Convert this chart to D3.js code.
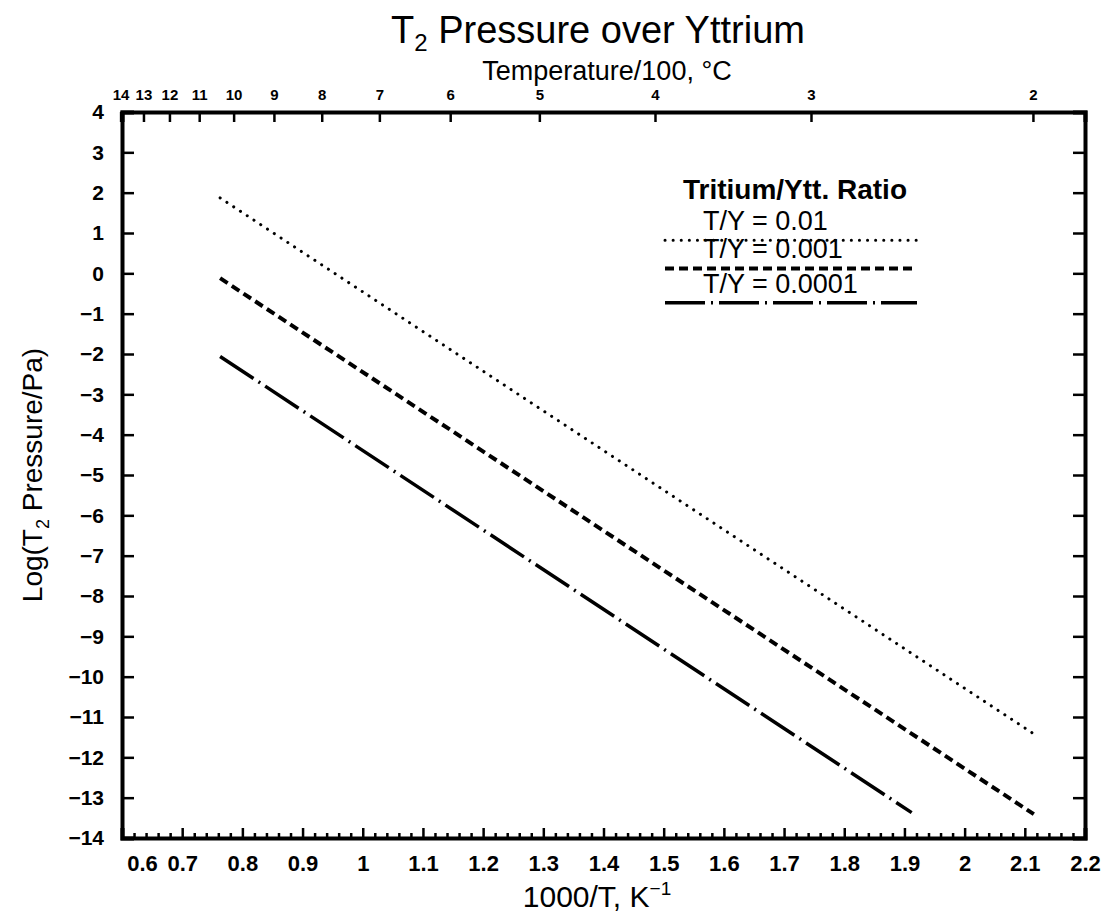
<html>
  <style type="text/css">
    body { margin: 0; background: #fff; }
    text { font-family: "Liberation Sans Narrow", "Liberation Sans", sans-serif; fill: #000; }
  </style>
  <body>
    <script src="https://d3js.org/d3.v7.min.js" charset="utf-8"></script>
    <script type="text/javascript">
      // values
      const xTickValues = [0.6, 0.7, 0.8, 0.9, 1, 1.1, 1.2, 1.3, 1.4, 1.5, 1.6, 1.7, 1.8, 1.9, 2, 2.1, 2.2];
      const yTickValues = [4, 3, 2, 1, 0, -1, -2, -3, -4, -5, -6, -7, -8, -9, -10, -11, -12, -13, -14];
      const tempTicks = [14, 13, 12, 11, 10, 9, 8, 7, 6, 5, 4, 3, 2]; // T/100, deg C

      const ratioLabels = ["T/Y = 0.01", "T/Y = 0.001", "T/Y = 0.0001"];
      const invTemp = [[0.763, 2.115], [0.763, 2.115], [0.763, 1.912]];
      const logP = [[1.87, -11.42], [-0.12, -13.41], [-2.06, -13.37]];
      const legendLevels = [0.82, 0.12, -0.73];
      const dashes = ["0.1 8", "9 5", "40 6 2 6"];
      const widths = [3, 4, 3.5];

      const props = { width: 1117, height: 919, left: 122, right: 1085, top: 112, bottom: 838 };

      let svg = d3.select("body").append("svg")
        .attr("width", props.width)
        .attr("height", props.height);

      const x = d3.scaleLinear().domain([0.6, 2.2]).range([props.left, props.right]);
      const y = d3.scaleLinear().domain([4, -14]).range([props.top, props.bottom]);

      // bottom axis, ticks pointing up, minor every 0.02
      const minor = d3.range(31, 110).map(d => d / 50).filter(d => Math.abs(d * 10 - Math.round(d * 10)) > 1e-6);
      svg.append("g")
        .attr("transform", `translate(0,${props.bottom})`)
        .call(d3.axisBottom(x).tickValues(minor).tickSize(-5).tickFormat(""))
        .call(g => g.select(".domain").remove());
      let xAxis = svg.append("g")
        .attr("transform", `translate(0,${props.bottom})`)
        .call(d3.axisBottom(x).tickValues(xTickValues).tickSize(-10).tickPadding(17).tickFormat(d3.format("")));
      xAxis.selectAll("text").style("font-size", "22px").style("font-weight", "bold");
      xAxis.selectAll(".tick").filter(d => d === 0.6).select("text").attr("dx", 20);

      // top axis: temperature / 100 C
      const toInv = t => 1000 / (t * 100 + 273.15);
      let topAxis = svg.append("g")
        .attr("transform", `translate(0,${props.top})`)
        .call(d3.axisTop(x).tickValues(tempTicks.map(toInv)).tickSize(-10).tickPadding(12)
          .tickFormat((d, i) => tempTicks[i]));
      topAxis.selectAll("text").style("font-size", "15px").style("font-weight", "bold");

      let yAxis = svg.append("g")
        .attr("transform", `translate(${props.left},0)`)
        .call(d3.axisLeft(y).tickValues(yTickValues).tickSize(-12).tickPadding(18));
      yAxis.selectAll("text").style("font-size", "21px").style("font-weight", "bold");

      svg.append("g")
        .attr("transform", `translate(${props.right},0)`)
        .call(d3.axisRight(y).tickValues(yTickValues).tickSize(-12).tickFormat(""));

      svg.selectAll(".domain").attr("stroke-width", 4).attr("stroke", "#000");
      svg.selectAll(".tick line").attr("stroke-width", 2.5).attr("stroke", "#000");
      svg.selectAll(".tick text").attr("fill", "#000");

      // data lines
      const line = d3.line().x(d => x(d[0])).y(d => y(d[1]));
      svg.append("g").selectAll("path")
        .data(ratioLabels)
        .enter()
        .append("path")
        .attr("d", (d, i) => line(d3.zip(invTemp[i], logP[i])))
        .attr("fill", "none")
        .attr("stroke", "#000")
        .attr("stroke-width", (d, i) => widths[i])
        .attr("stroke-linecap", (d, i) => i === 0 ? "round" : "butt")
        .attr("stroke-dasharray", (d, i) => dashes[i]);

      // legend
      const legend = svg.append("g");
      legend.append("text")
        .attr("x", 795).attr("y", 199)
        .attr("text-anchor", "middle")
        .style("font-size", "28px")
        .style("font-weight", "bold")
        .text("Tritium/Ytt. Ratio");
      legend.selectAll("line")
        .data(ratioLabels)
        .enter()
        .append("line")
        .attr("x1", 665).attr("x2", 917)
        .attr("y1", (d, i) => y(legendLevels[i]))
        .attr("y2", (d, i) => y(legendLevels[i]))
        .attr("stroke", "#000")
        .attr("stroke-width", (d, i) => widths[i])
        .attr("stroke-linecap", (d, i) => i === 0 ? "round" : "butt")
        .attr("stroke-dasharray", (d, i) => dashes[i]);
      legend.selectAll("text.entry")
        .data(ratioLabels)
        .enter()
        .append("text")
        .attr("class", "entry")
        .attr("x", 703)
        .attr("y", (d, i) => y(legendLevels[i]) - 10)
        .style("font-size", "27px")
        .text(d => d);

      // titles
      let title = svg.append("text")
        .attr("x", 598).attr("y", 43)
        .attr("text-anchor", "middle")
        .style("font-size", "38px");
      title.append("tspan").text("T");
      title.append("tspan").attr("dy", 8).style("font-size", "24px").text("2");
      title.append("tspan").attr("dy", -8).text(" Pressure over Yttrium");

      svg.append("text")
        .attr("x", 607).attr("y", 80)
        .attr("text-anchor", "middle")
        .style("font-size", "27px")
        .text("Temperature/100, °C");

      let xTitle = svg.append("text")
        .attr("x", 597).attr("y", 907)
        .attr("text-anchor", "middle")
        .style("font-size", "30px");
      xTitle.append("tspan").text("1000/T, K");
      xTitle.append("tspan").attr("dy", -12).style("font-size", "19px").text("−1");

      let yTitle = svg.append("text")
        .attr("transform", `translate(42,${(props.top + props.bottom) / 2}) rotate(-90)`)
        .attr("text-anchor", "middle")
        .style("font-size", "28px");
      yTitle.append("tspan").text("Log(T");
      yTitle.append("tspan").attr("dy", 7).style("font-size", "18px").text("2");
      yTitle.append("tspan").attr("dy", -7).text(" Pressure/Pa)");
    </script>
  </body>
</html>
